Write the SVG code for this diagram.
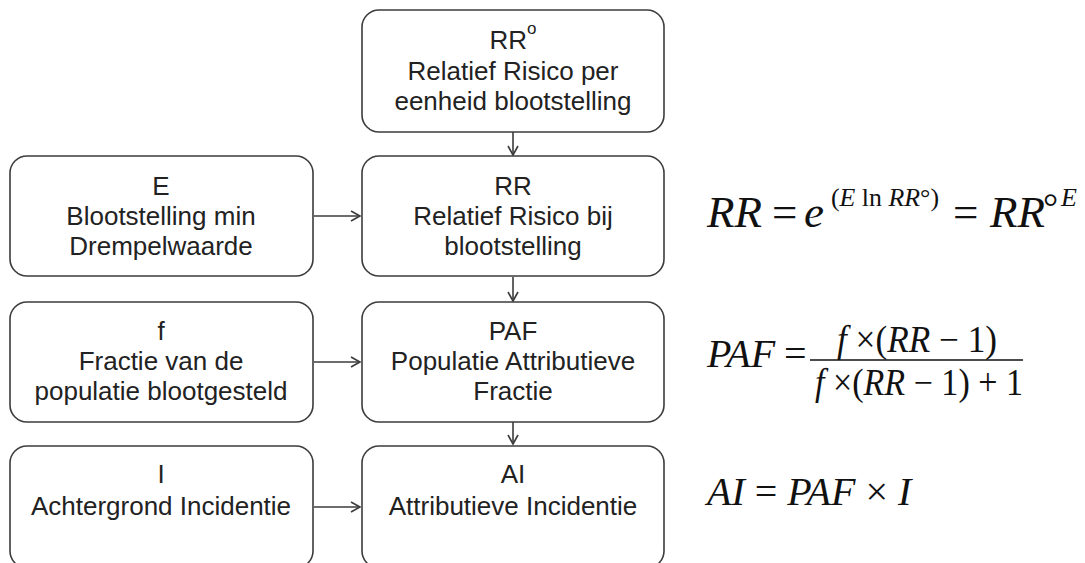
<svg xmlns="http://www.w3.org/2000/svg" width="1085" height="563" viewBox="0 0 1085 563">
<style>
.box{fill:#fff;stroke:#3c3c3c;stroke-width:1.6}
.t{font-family:"Liberation Sans",Arial,sans-serif;font-size:26px;fill:#222;text-anchor:middle}
.m{font-family:"Liberation Serif","Times New Roman",serif;fill:#111}
.i{font-style:italic}
.c{fill:none;stroke:#3c3c3c;stroke-width:1.6}
</style>
<defs>
<marker id="ah" markerWidth="12" markerHeight="12" refX="10" refY="6" orient="auto" markerUnits="userSpaceOnUse">
<path d="M1,1 L10,6 L1,11" fill="none" stroke="#3c3c3c" stroke-width="1.6"/>
</marker>
</defs>
<rect width="1085" height="563" fill="#fff"/>
<g id="connectors">
<line class="c" x1="513" y1="132" x2="513" y2="155" marker-end="url(#ah)"/>
<line class="c" x1="513" y1="277" x2="513" y2="301" marker-end="url(#ah)"/>
<line class="c" x1="513" y1="422" x2="513" y2="444" marker-end="url(#ah)"/>
<line class="c" x1="314" y1="216" x2="360" y2="216" marker-end="url(#ah)"/>
<line class="c" x1="314" y1="362" x2="360" y2="362" marker-end="url(#ah)"/>
<line class="c" x1="314" y1="507" x2="360" y2="507" marker-end="url(#ah)"/>
</g>
<g id="node-rr0">
<rect class="box" x="362" y="10" width="302" height="122" rx="17"/>
<text class="t" x="513" y="49">RR<tspan font-size="17" dy="-15">o</tspan></text>
<text class="t" x="513" y="80">Relatief Risico per</text>
<text class="t" x="513" y="110">eenheid blootstelling</text>
</g>
<g id="node-rr">
<rect class="box" x="362" y="156" width="302" height="120" rx="17"/>
<text class="t" x="513" y="195">RR</text>
<text class="t" x="513" y="225">Relatief Risico bij</text>
<text class="t" x="513" y="255">blootstelling</text>
</g>
<g id="node-paf">
<rect class="box" x="362" y="302" width="302" height="120" rx="17"/>
<text class="t" x="513" y="340">PAF</text>
<text class="t" x="513" y="370">Populatie Attributieve</text>
<text class="t" x="513" y="400">Fractie</text>
</g>
<g id="node-ai">
<rect class="box" x="362" y="446" width="302" height="122" rx="17"/>
<text class="t" x="513" y="483">AI</text>
<text class="t" x="513" y="515">Attributieve Incidentie</text>
</g>
<g id="node-e">
<rect class="box" x="10" y="156" width="303" height="120" rx="17"/>
<text class="t" x="161" y="195">E</text>
<text class="t" x="161" y="225">Blootstelling min</text>
<text class="t" x="161" y="255">Drempelwaarde</text>
</g>
<g id="node-f">
<rect class="box" x="10" y="302" width="303" height="120" rx="17"/>
<text class="t" x="161" y="340">f</text>
<text class="t" x="161" y="370">Fractie van de</text>
<text class="t" x="161" y="400">populatie blootgesteld</text>
</g>
<g id="node-i">
<rect class="box" x="10" y="446" width="303" height="122" rx="17"/>
<text class="t" x="161" y="483">I</text>
<text class="t" x="161" y="515">Achtergrond Incidentie</text>
</g>
<g id="formula-rr">
<text class="m i" x="707" y="227" font-size="45">RR</text>
<text class="m" x="772" y="227" font-size="45">=</text>
<text class="m i" x="804" y="227" font-size="45">e</text>
<text class="m" x="831" y="206" font-size="26" textLength="108" lengthAdjust="spacingAndGlyphs">(<tspan class="i">E</tspan> ln <tspan class="i">RR</tspan>°)</text>
<text class="m" x="953" y="227" font-size="45">=</text>
<text class="m i" x="990" y="227" font-size="45">RR</text>
<text class="m" x="1043" y="220" font-size="38">°</text>
<text class="m i" x="1061" y="206" font-size="26">E</text>
</g>
<g id="formula-paf">
<text class="m i" x="707" y="367" font-size="40">PAF</text>
<text class="m" x="784" y="367" font-size="40">=</text>
<line x1="810" y1="360" x2="1023" y2="360" stroke="#111" stroke-width="1.6"/>
<text class="m" x="837" y="352" font-size="37" textLength="160" lengthAdjust="spacingAndGlyphs"><tspan class="i">f</tspan> ×(<tspan class="i">RR</tspan> − 1)</text>
<text class="m" x="815" y="395" font-size="37" textLength="208" lengthAdjust="spacingAndGlyphs"><tspan class="i">f</tspan> ×(<tspan class="i">RR</tspan> − 1) + 1</text>
</g>
<g id="formula-ai">
<text class="m" x="707" y="505" font-size="40"><tspan class="i">AI</tspan> = <tspan class="i">PAF</tspan> × <tspan class="i">I</tspan></text>
</g>
</svg>
